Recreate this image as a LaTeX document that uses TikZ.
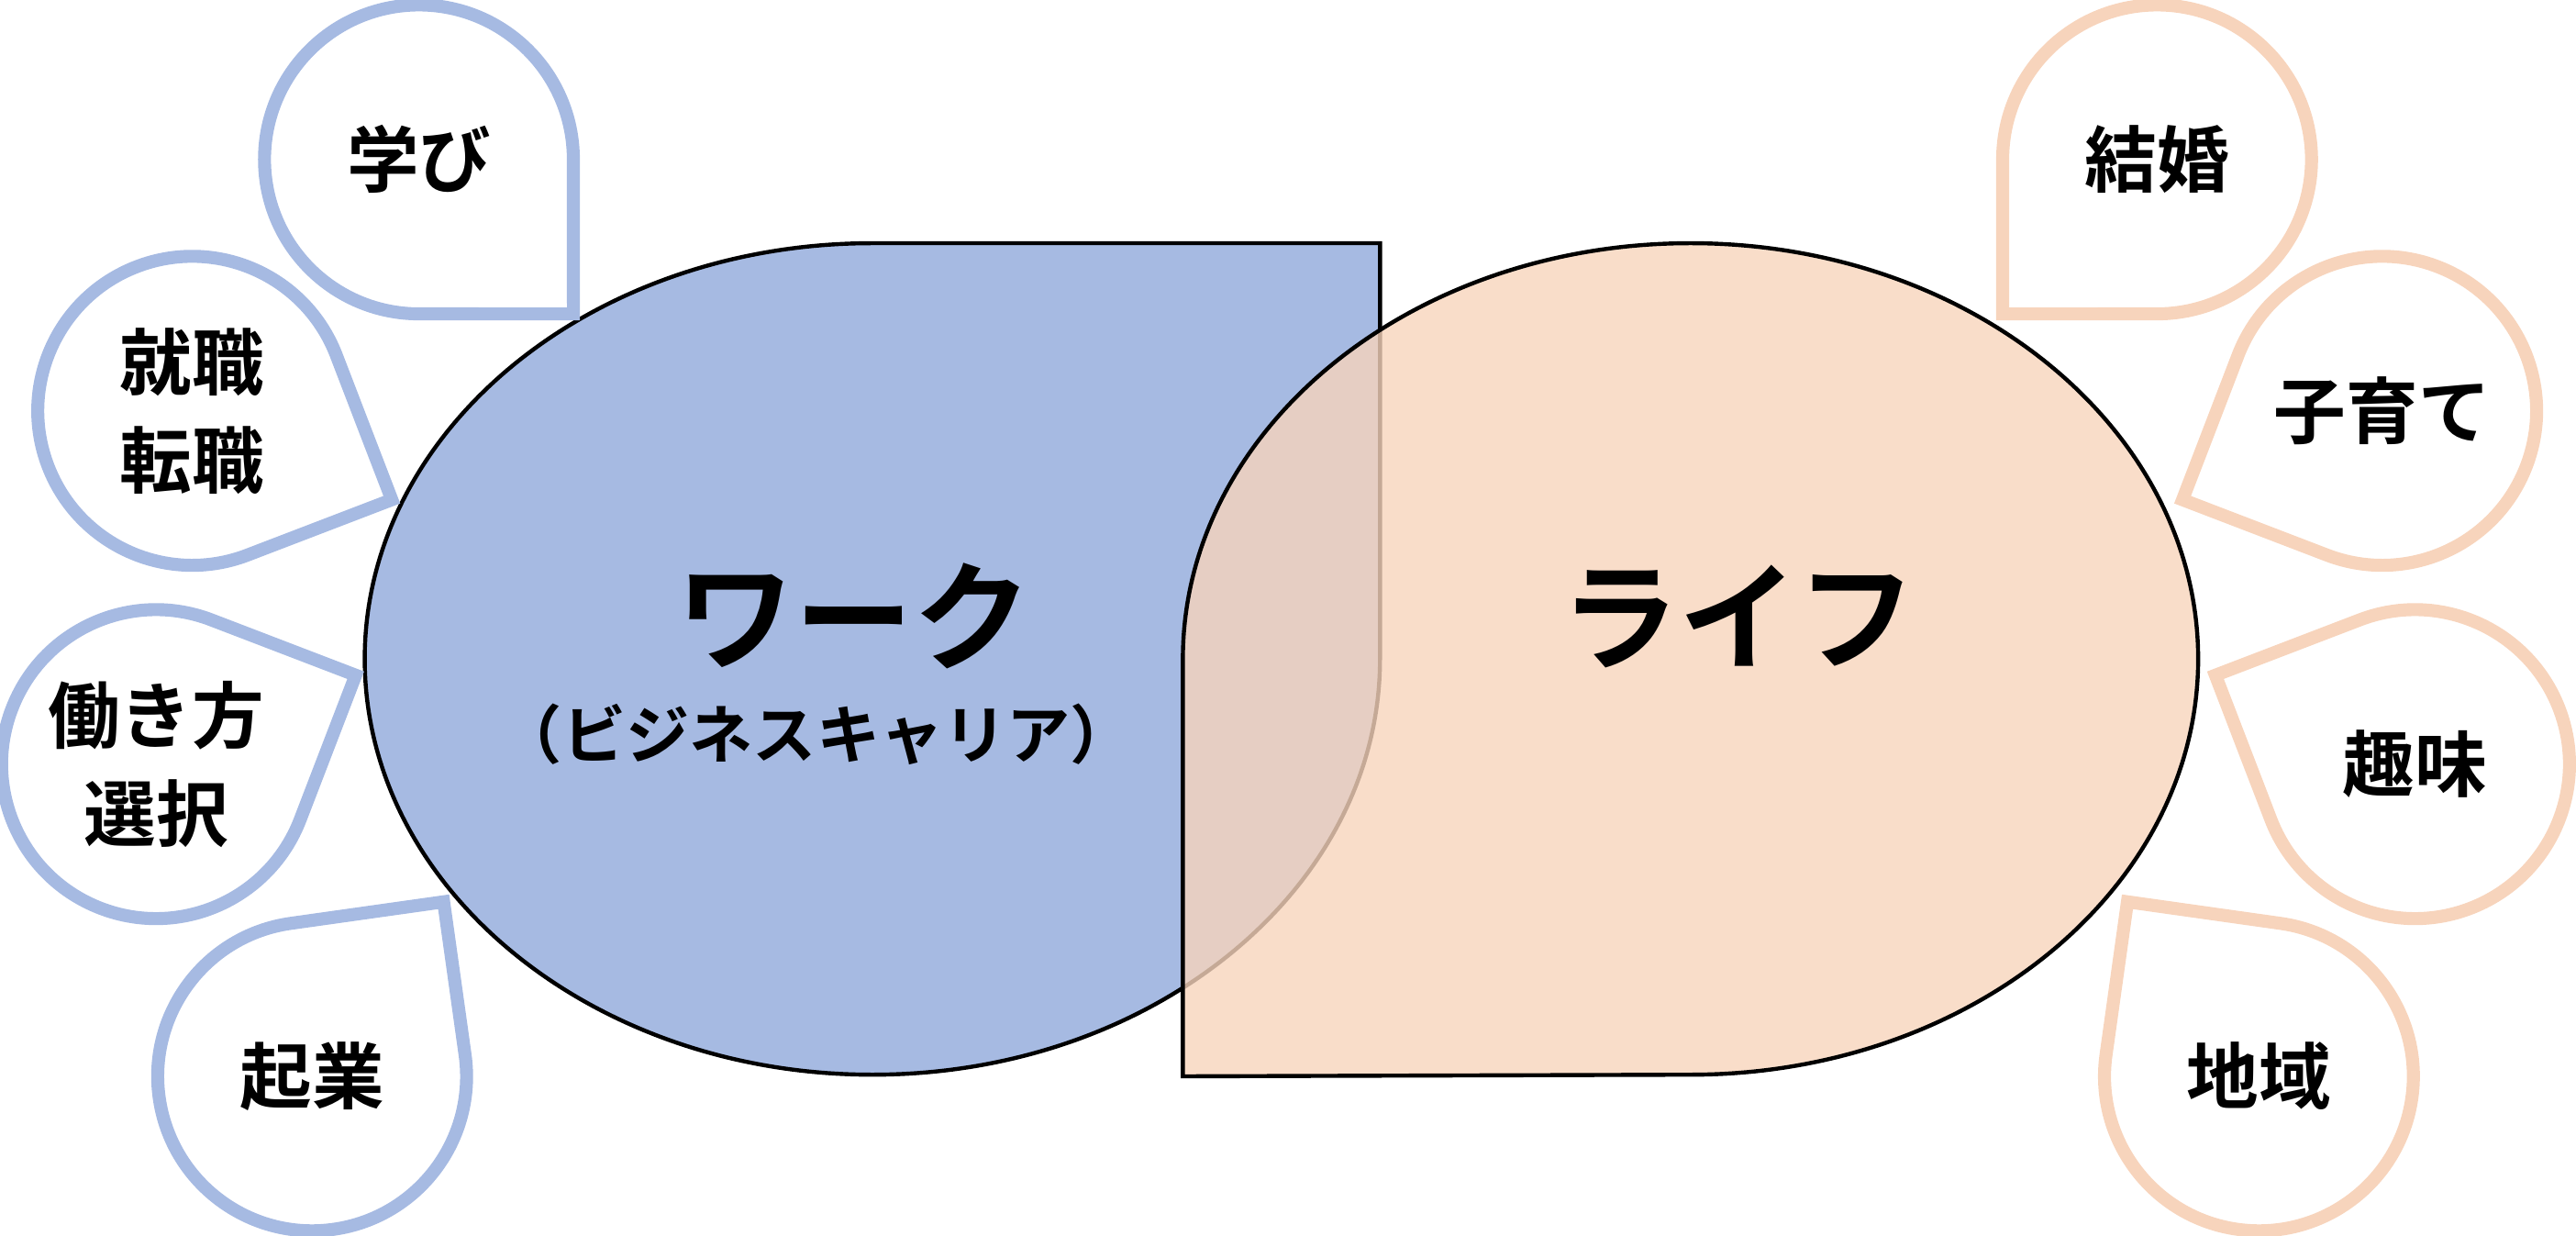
\documentclass[tikz,border=0pt]{standalone}
\usepackage{fontspec}
\newfontfamily\jp{Noto Sans CJK JP Bold}
\usetikzlibrary{calc}
\definecolor{workblue}{HTML}{A6BAE2}
\definecolor{lifepeach}{HTML}{F7D4BC}
\newcommand{\drop}[3]{% center, corner angle, colour
  \draw[#3, line width=4.5pt] ($(#1)+(#2+45:94)$) arc[start angle=#2+45, delta angle=270, radius=94]
    -- ($(#1)+(#2:133)$) -- cycle;}
\begin{document}
\begin{tikzpicture}[x=0.02cm, y=0.02cm,
  lbl/.style={font=\jp\fontsize{25}{34}\selectfont, align=center},
  big/.style={font=\jp\fontsize{41}{48}\selectfont}]
  \useasboundingbox (0,0) rectangle (1568,752);
  % work
  \draw[fill=workblue, line width=1.4pt] (840,351) -- (840,604) -- (531,604)
    arc[start angle=90, end angle=270, x radius=309, y radius=253]
    arc[start angle=270, end angle=360, x radius=309, y radius=253] -- cycle;
  % life
  \draw[fill=lifepeach, fill opacity=0.8, line width=1.4pt] (720,97) -- (720,351)
    arc[start angle=180, end angle=-90, x radius=309, y radius=253] -- cycle;
  \node[big] (work) at (520,377) {ワーク};
  \node[font=\jp\fontsize{22}{26}\selectfont] (career) at (497,305) {（ビジネスキャリア）};
  \node[big] (life) at (1058,377) {ライフ};
  % bubbles
  \coordinate (c1) at (255,655); \drop{c1}{-45}{workblue}
  \coordinate (c2) at (117,502); \drop{c2}{-24}{workblue}
  \coordinate (c3) at (95,287);  \drop{c3}{24}{workblue}
  \coordinate (c4) at (190,97);  \drop{c4}{53}{workblue}
  \coordinate (d1) at (1313,655); \drop{d1}{225}{lifepeach}
  \coordinate (d2) at (1450,502); \drop{d2}{204}{lifepeach}
  \coordinate (d3) at (1470,287); \drop{d3}{156}{lifepeach}
  \coordinate (d4) at (1375,97);  \drop{d4}{127}{lifepeach}
  \node[lbl] (manabi) at (c1) {学び};
  \node[lbl] (shushoku) at (c2) {就職\\転職};
  \node[lbl] (hatarakikata) at (c3) {働き方\\選択};
  \node[lbl] (kigyo) at (c4) {起業};
  \node[lbl] (kekkon) at (d1) {結婚};
  \node[lbl] (kosodate) at (d2) {子育て};
  \node[lbl] (shumi) at (d3) {趣味};
  \node[lbl] (chiiki) at (d4) {地域};
\end{tikzpicture}
\end{document}
